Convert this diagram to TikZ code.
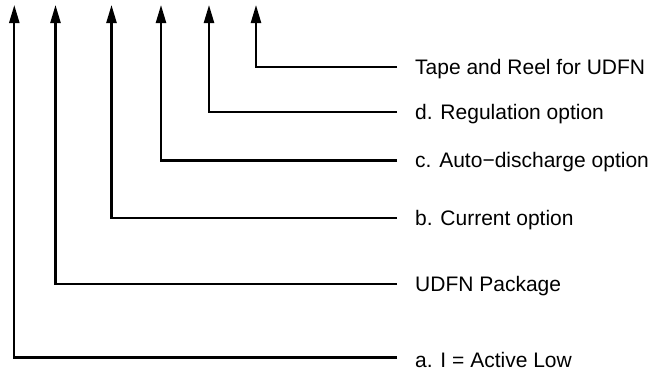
\documentclass[tikz,border=0pt]{standalone}
\usepackage{fontspec}
\setmainfont{Liberation Sans}
\usetikzlibrary{arrows.meta}

\begin{document}
\begin{tikzpicture}[x=1bp, y=-1bp,
		optlabel/.style={anchor=west, inner xsep=18bp, inner ysep=0pt, yshift=-2bp,
			font=\fontsize{21bp}{24bp}\selectfont},
		lead/.style={draw, line width=2.3pt, -{Triangle[length=18bp, width=10bp]}}]
		\useasboundingbox (0, 0) rectangle (652, 371);

		% Arrow tips along the top
		\coordinate (tipa) at (14.3, 5);
		\coordinate (tippkg) at (55.5, 5);
		\coordinate (tipb) at (111.5, 5);
		\coordinate (tipc) at (161, 5);
		\coordinate (tipd) at (209, 5);
		\coordinate (tiptape) at (256, 5);

		% Option labels
		\node[optlabel] (tape) at (397, 67) {Tape and Reel for UDFN};
		\node[optlabel] (optd) at (397, 112) {d. Regulation option};
		\node[optlabel] (optc) at (397, 160.5) {c. Auto−discharge option};
		\node[optlabel] (optb) at (397, 218) {b. Current option};
		\node[optlabel] (pkg) at (397, 284) {UDFN Package};
		\node[optlabel] (opta) at (397, 357.5) {a. I = Active Low};

		% Leads from labels up to the tips
		\path[lead] ([yshift=2bp]tape.west) -| (tiptape);
		\path[lead] ([yshift=2bp]optd.west) -| (tipd);
		\path[lead] ([yshift=2bp]optc.west) -| (tipc);
		\path[lead] ([yshift=2bp]optb.west) -| (tipb);
		\path[lead] ([yshift=2bp]pkg.west) -| (tippkg);
		\path[lead] ([yshift=2bp]opta.west) -| (tipa);

	\end{tikzpicture}
\end{document}
